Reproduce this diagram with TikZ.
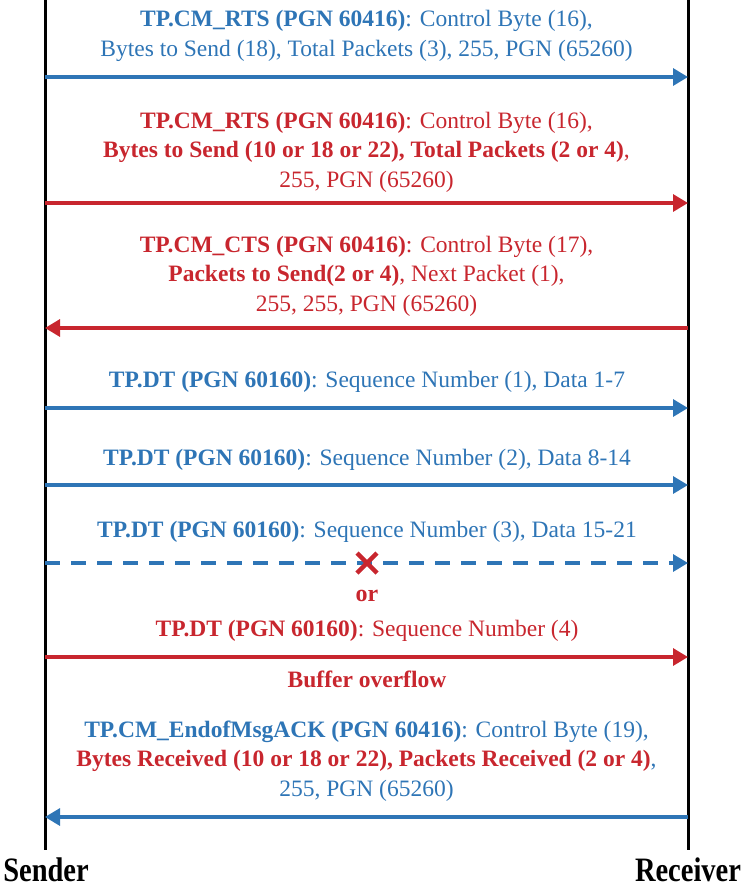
\documentclass[tikz,border=0pt]{standalone}
\usepackage{fontspec}
\setmainfont{Liberation Serif}
\usetikzlibrary{arrows.meta}
\definecolor{cblue}{RGB}{46,117,182}
\definecolor{cred}{RGB}{200,38,46}
\begin{document}
\begin{tikzpicture}[x=1pt,y=-1pt,
  life/.style={line width=3pt,black},
  msg/.style={line width=3.2pt,-{Triangle[length=15pt,width=17pt]}},
  lbl/.style={align=center,inner sep=0pt,font=\fontsize{23.5}{29.5}\selectfont},
  endlbl/.style={inner sep=0pt,font=\fontsize{28.5}{34}\selectfont\bfseries}]
\useasboundingbox (0,0) rectangle (747,886);
% lifelines
\coordinate (sTop) at (45,0);
\coordinate (sBot) at (45,850);
\coordinate (rTop) at (688,0);
\coordinate (rBot) at (688,850);
\draw[life] (sTop) -- (sBot);
\draw[life] (rTop) -- (rBot);
\node[endlbl] (sender) at (46,870) {\scalebox{1}[1.2]{Sender}};
\node[endlbl] (receiver) at (688,870) {\scalebox{1}[1.2]{Receiver}};
% message anchors
\foreach \n/\y in {a/77,b/203,c/328,d/408,e/485,f/563,g/657,h/817}{
  \coordinate (s\n) at (45,\y);
  \coordinate (r\n) at (688,\y);
}
% 1
\node[lbl,text=cblue] (t1) at (366.5,36) {\textbf{TP.CM\_RTS (PGN 60416)}: Control Byte (16),\\Bytes to Send (18), Total Packets (3), 255, PGN (65260)};
\draw[msg,cblue] (sa) -- (ra);
% 2
\node[lbl,text=cred] (t2) at (366.5,152) {\textbf{TP.CM\_RTS (PGN 60416)}: Control Byte (16),\\\textbf{Bytes to Send (10 or 18 or 22), Total Packets (2 or 4)},\\255, PGN (65260)};
\draw[msg,cred] (sb) -- (rb);
% 3
\node[lbl,text=cred] (t3) at (366.5,276) {\textbf{TP.CM\_CTS (PGN 60416)}: Control Byte (17),\\\textbf{Packets to Send(2 or 4)}, Next Packet (1),\\255, 255, PGN (65260)};
\draw[msg,cred] (rc) -- (sc);
% 4
\node[lbl,text=cblue] (t4) at (367,382) {\textbf{TP.DT (PGN 60160)}: Sequence Number (1), Data 1-7};
\draw[msg,cblue] (sd) -- (rd);
% 5
\node[lbl,text=cblue] (t5) at (367,460) {\textbf{TP.DT (PGN 60160)}: Sequence Number (2), Data 8-14};
\draw[msg,cblue] (se) -- (re);
% 6
\node[lbl,text=cblue] (t6) at (367,532) {\textbf{TP.DT (PGN 60160)}: Sequence Number (3), Data 15-21};
\draw[msg,cblue,dash pattern=on 15pt off 11pt] (sf) -- (rf);
\coordinate (x) at (367,563);
\draw[cred,line width=4.5pt] ([shift={(-10,-10)}]x) -- ([shift={(10,10)}]x)
  ([shift={(-10,10)}]x) -- ([shift={(10,-10)}]x);
\node[lbl,text=cred,font=\fontsize{24}{29.5}\selectfont\bfseries] (or) at (367,596) {or};
% 7
\node[lbl,text=cred] (t7) at (367,631) {\textbf{TP.DT (PGN 60160)}: Sequence Number (4)};
\draw[msg,cred] (sg) -- (rg);
\node[lbl,text=cred,font=\fontsize{23.5}{29.5}\selectfont\bfseries] (bo) at (367,679) {Buffer overflow};
% 8
\node[lbl,text=cblue] (t8) at (366.5,761) {\textbf{TP.CM\_EndofMsgACK (PGN 60416)}: Control Byte (19),\\\textcolor{cred}{\textbf{Bytes Received (10 or 18 or 22), Packets Received (2 or 4)}},\\255, PGN (65260)};
\draw[msg,cblue] (rh) -- (sh);
\end{tikzpicture}
\end{document}
